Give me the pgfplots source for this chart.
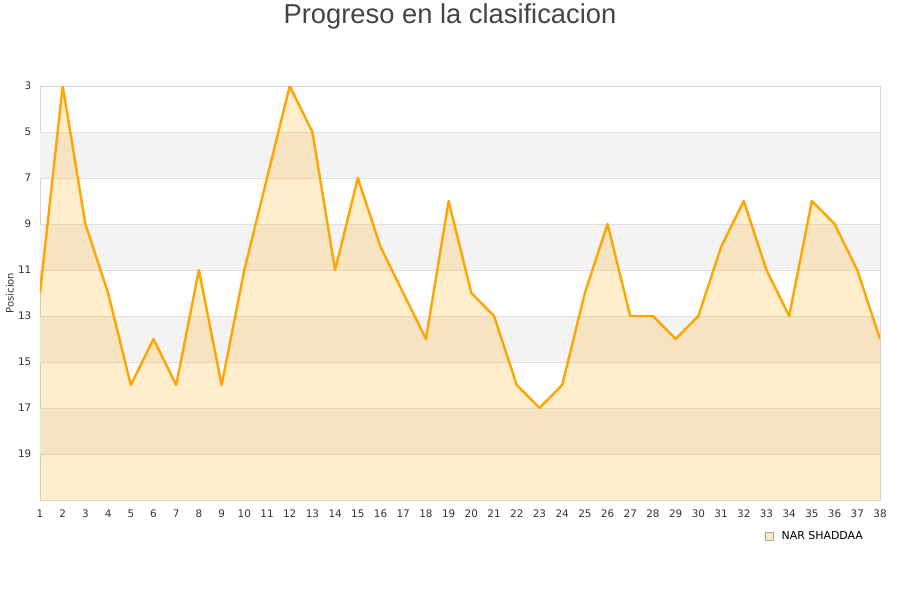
\documentclass[border=0pt]{standalone}
\usepackage{fontspec}
\setmainfont{DejaVu Sans}
\newfontfamily\titlefont{Liberation Sans}
\usepackage{pgfplots}
\usepackage{pgfplotstable}
\pgfplotsset{compat=1.18}

\definecolor{lineor}{HTML}{FFA500}
\definecolor{bandgray}{HTML}{F3F3F3}
\definecolor{gridgray}{HTML}{E0E0E0}
\definecolor{titlegray}{HTML}{444444}
\definecolor{tickgray}{HTML}{333333}

% jornada, posicion
\pgfplotstableread{
x y
1 12
2 3
3 9
4 12
5 16
6 14
7 16
8 11
9 16
10 11
11 7
12 3
13 5
14 11
15 7
16 10
17 12
18 14
19 8
20 12
21 13
22 16
23 17
24 16
25 12
26 9
27 13
28 13
29 14
30 13
31 10
32 8
33 11
34 13
35 8
36 9
37 11
38 14
}\posdata

\begin{document}
\begin{tikzpicture}
\path[use as bounding box] (0pt,0pt) rectangle (675pt,450pt);
\node[font=\titlefont\fontsize{20.5}{24}\selectfont, text=titlegray] at (337.5pt,438pt) {Progreso en la clasificacion};
\begin{axis}[
    at={(30pt,75pt)}, anchor=south west,
    width=630pt, height=310.5pt, scale only axis,
    xmin=1, xmax=38, ymin=3, ymax=21, y dir=reverse,
    xtick={1,...,38}, ytick={3,5,...,19},
    axis line style={draw=gridgray!90!gray, line width=0.6pt},
    major tick length=0pt,
    /pgf/number format/assume math mode=true,
    tick label style={font=\fontsize{7.8}{9}\selectfont, text=tickgray},
    yticklabel style={xshift=-3pt},
    xticklabel style={yshift=-4pt},
    ylabel={Posicion},
    ylabel style={at={(axis description cs:-0.0357,0.5)}, anchor=center,
        font=\fontsize{7.5}{9}\selectfont, text=tickgray},
    legend style={at={(axis description cs:0.923,-0.087)}, anchor=center,
        draw=none, fill=none, font=\fontsize{8.2}{9}\selectfont},
    legend cell align=left,
]
% bandas alternas y lineas de rejilla
\fill[bandgray] (axis cs:1,5) rectangle (axis cs:38,7);
\fill[bandgray] (axis cs:1,9) rectangle (axis cs:38,11);
\fill[bandgray] (axis cs:1,13) rectangle (axis cs:38,15);
\fill[bandgray] (axis cs:1,17) rectangle (axis cs:38,19);
\foreach \yy in {5,7,...,19} {
  \edef\temp{\noexpand\draw[gridgray, line width=0.6pt] (axis cs:1,\yy) -- (axis cs:38,\yy);}
  \temp
}

\addplot[fill=lineor, fill opacity=0.2, draw=none, forget plot]
  table[x=x, y=y] {\posdata} -- (axis cs:38,21) -- (axis cs:1,21) -- cycle;
\addplot[lineor, line width=1.8pt, line join=round, mark=none,
  legend image code/.code={\draw[gray!70, fill=lineor!25, line width=0.5pt] (-1pt,-3pt) rectangle (5pt,3pt);}]
  table[x=x, y=y] {\posdata};
\legend{\hspace{4pt}NAR SHADDAA}
\end{axis}
\end{tikzpicture}
\end{document}
